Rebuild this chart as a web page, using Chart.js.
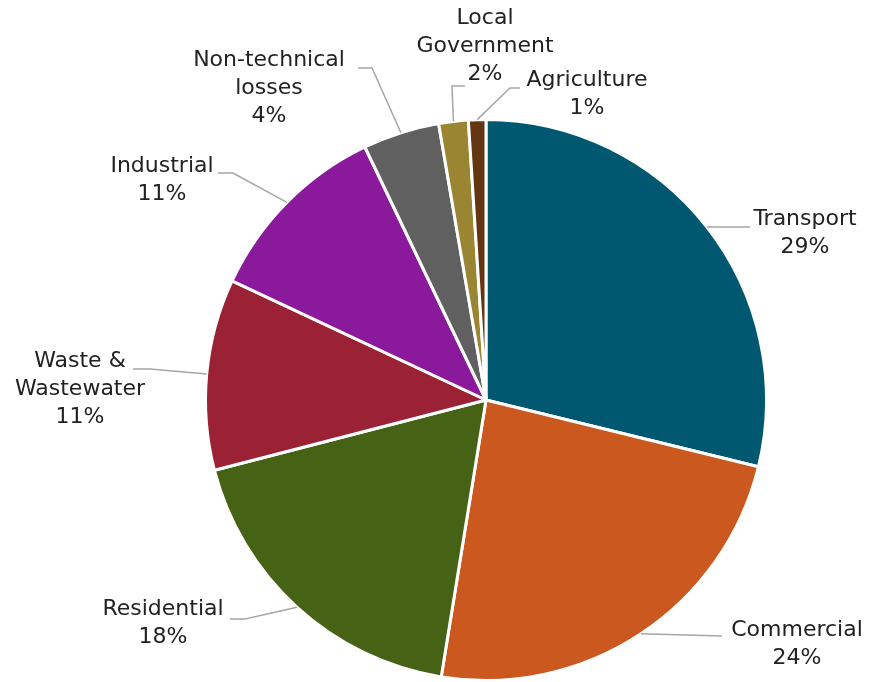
<!DOCTYPE html>
<html>
<head>
<meta charset="utf-8">
<script src="https://cdn.jsdelivr.net/npm/chart.js@4.4.1/dist/chart.umd.min.js"></script>
<style>
  html, body { margin: 0; padding: 0; background: #fff; }
  #wrap { width: 871px; height: 682px; position: relative; }
</style>
</head>
<body>
<div id="wrap"><canvas id="pieChart" width="871" height="682"></canvas></div>
<script>
// Datos del gráfico
const sectors = ['Transport', 'Commercial', 'Residential', 'Waste & Wastewater', 'Industrial',
                 'Non-technical losses', 'Local Government', 'Agriculture'];
const shares = [28.8, 23.7, 18.4, 11.0, 10.9, 4.4, 1.7, 1.0];
const sliceColors = ['#005870', '#CB581F', '#466215', '#9B2235', '#8A199C', '#606060', '#9A8632', '#633511'];

// Texto de las etiquetas (líneas) y posición de cada una
const labelLines = [
    ['Transport'], ['Commercial'], ['Residential'], ['Waste &', 'Wastewater'], ['Industrial'],
    ['Non-technical', 'losses'], ['Local', 'Government'], ['Agriculture']
];
const labelLayout = [
    { x: 805, y: 219, leader: [[750, 227]] },
    { x: 797, y: 630, leader: [[722, 636]] },
    { x: 163, y: 609, leader: [[245, 619], [230, 619]] },
    { x: 80,  y: 361, leader: [[150, 369], [133, 369]] },
    { x: 162, y: 166, leader: [[233, 173], [218, 173]] },
    { x: 269, y: 60,  leader: [[372, 68], [358, 68]] },
    { x: 485, y: 18,  leader: [[452, 86], [465, 86]] },
    { x: 587, y: 80,  leader: [[510, 88], [520, 88]] }
];

const pieLabels = {
    id: 'pieLabels',
    afterDatasetsDraw(chart) {
        const ctx = chart.ctx;
        const meta = chart.getDatasetMeta(0);
        const total = shares.reduce((a, b) => a + b, 0);
        ctx.save();
        meta.data.forEach((arc, i) => {
            const p = arc.getProps(['x', 'y', 'startAngle', 'endAngle', 'outerRadius'], true);
            const mid = (p.startAngle + p.endAngle) / 2;
            const ax = p.x + Math.cos(mid) * p.outerRadius;
            const ay = p.y + Math.sin(mid) * p.outerRadius;
            const lay = labelLayout[i];

            // línea guía
            ctx.strokeStyle = '#A6A6A6';
            ctx.lineWidth = 1.5;
            ctx.beginPath();
            ctx.moveTo(ax, ay);
            lay.leader.forEach(pt => ctx.lineTo(pt[0], pt[1]));
            ctx.stroke();

            // texto
            const lines = labelLines[i].concat([Math.round(shares[i] / total * 100) + '%']);
            ctx.fillStyle = '#222';
            ctx.font = '22px "DejaVu Sans", sans-serif';
            ctx.textAlign = 'center';
            ctx.textBaseline = 'middle';
            lines.forEach((t, k) => ctx.fillText(t, lay.x, lay.y + k * 28));
        });
        ctx.restore();
    }
};

new Chart(document.getElementById('pieChart').getContext('2d'), {
    type: 'pie',
    data: {
        labels: sectors,
        datasets: [{
            data: shares,
            backgroundColor: sliceColors,
            borderColor: '#ffffff',
            borderWidth: 3
        }]
    },
    options: {
        responsive: false,
        animation: false,
        layout: { padding: { top: 118, bottom: -2, left: 204, right: 103 } },
        plugins: {
            legend: { display: false },
            tooltip: { enabled: false }
        }
    },
    plugins: [pieLabels]
});
</script>
</body>
</html>
